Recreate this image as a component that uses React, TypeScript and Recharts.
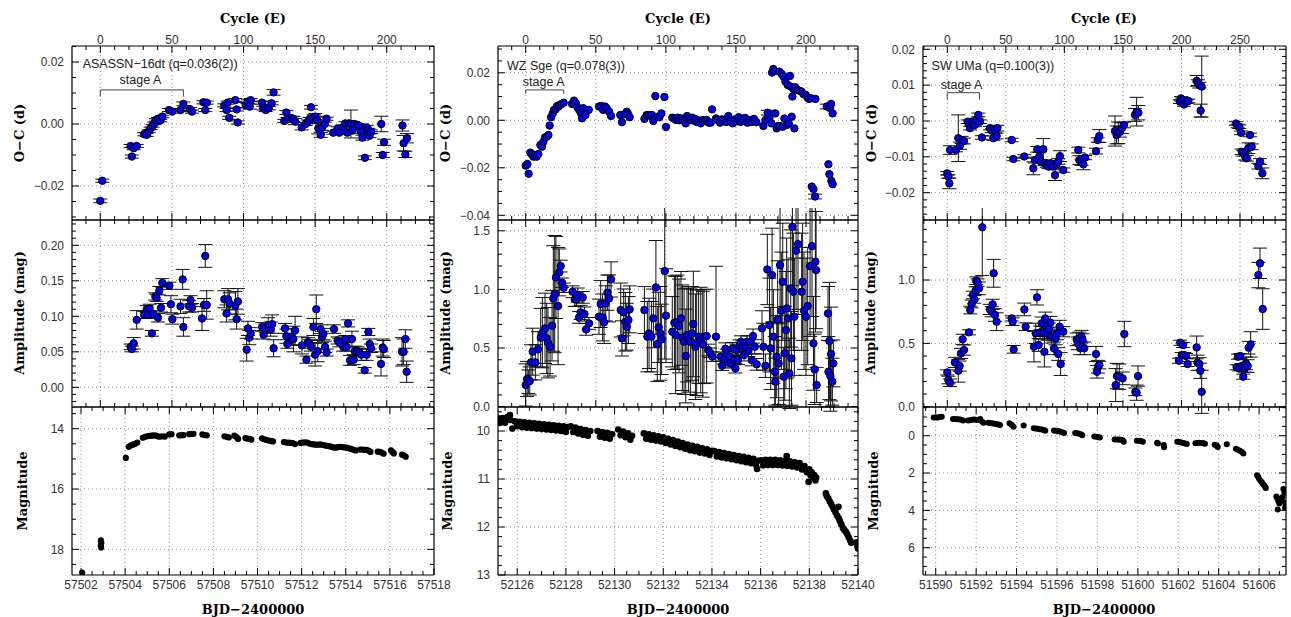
import React from 'react';
import {
  ScatterChart,
  Scatter,
  XAxis,
  YAxis,
  ErrorBar,
  ReferenceLine,
  ReferenceDot,
} from 'recharts';

// ---- data: [cycle E, value, error] ----
const asOC = [
  [0, -0.0248, 0.0006], [1.4, -0.0183, 0.0005], [21.2, -0.0071, 0.0005], [22, -0.0105, 0.0005], [23.3, -0.0078, 0.0005],
  [25.4, -0.0071, 0.0005], [30.7, -0.0033, 0.0005], [32.4, -0.0035, 0.0005], [33.8, -0.0023, 0.0004], [35.1, -0.0014, 0.0004],
  [36.5, -0.0006, 0.0004], [37.7, 0.0002, 0.0004], [38.9, 0.0013, 0.0004], [40.3, 0.0017, 0.0004], [41.9, 0.0011, 0.0004],
  [43.3, 0.0024, 0.0004], [48, 0.0045, 0.0005], [50.3, 0.004, 0.0005], [56, 0.0045, 0.0005], [58, 0.0065, 0.0006],
  [62.6, 0.0048, 0.0005], [64, 0.004, 0.0005], [72, 0.007, 0.0005], [73.3, 0.0045, 0.0005], [74.3, 0.0069, 0.0005],
  [86.6, 0.006, 0.0005], [88.2, 0.0045, 0.0005], [88.9, 0.0069, 0.0005], [90, 0.002, 0.0005], [94.3, 0.0077, 0.0005],
  [95.2, 0.0047, 0.0005], [95.9, 0.0005, 0.0005], [101.5, 0.0061, 0.0008], [102.9, 0.0072, 0.0006], [104.3, 0.0056, 0.0008],
  [105, 0.0077, 0.0005], [112.9, 0.0069, 0.0005], [113.8, 0.0051, 0.0006], [115.5, 0.0045, 0.0005], [117.6, 0.0051, 0.0005],
  [119.6, 0.0067, 0.0005], [121, 0.0102, 0.0009], [128.5, 0.001, 0.0005], [129.9, 0.0037, 0.0006], [130.8, 0.0016, 0.0005],
  [133.8, 0.0018, 0.0007], [134.8, 0.0016, 0.0008], [136, 0.0008, 0.001], [140.6, -0.0011, 0.0008], [143.4, 0, 0.0005],
  [145, 0.0008, 0.0005], [146.2, 0.0016, 0.0005], [147.1, 0.0054, 0.0006], [149, 0.0022, 0.0008], [150.1, 0.0024, 0.001],
  [151.3, 0.0013, 0.0012], [152.2, -0.0014, 0.0018], [153.9, -0.0035, 0.0008], [154.8, -0.0012, 0.0008], [156.7, 0, 0.0006],
  [158, 0.0017, 0.0005], [162.7, -0.0028, 0.0005], [165.7, -0.0014, 0.0005], [166.9, -0.0028, 0.0005], [169.7, -0.0011, 0.0005],
  [171.1, 0.0002, 0.0005], [172.5, -0.0028, 0.0005], [173.6, 0.0002, 0.0005], [175, 0, 0.0045], [176.2, -0.0019, 0.0006],
  [177.4, 0, 0.0005], [179.5, -0.0003, 0.0005], [180.9, -0.0006, 0.0005], [182, -0.0025, 0.0005], [183, -0.0044, 0.0008],
  [184.8, -0.0109, 0.0006], [186, -0.0011, 0.0006], [187.2, -0.0019, 0.0005], [188, -0.0038, 0.0006], [189, -0.0025, 0.0006],
  [196.2, 0, 0.0025], [197.2, -0.01, 0.0008], [198.1, -0.0059, 0.001], [211, -0.0005, 0.0018], [211.8, -0.0062, 0.0025],
  [213, -0.0098, 0.001], [214.1, -0.0046, 0.0015],
];

const asAmp = [
  [21.2, 0.057, 0.004], [22, 0.054, 0.004], [23.3, 0.062, 0.008], [25.4, 0.095, 0.013], [30.7, 0.102, 0.005], [32.4, 0.11, 0.005],
  [33, 0.102, 0.005], [34.4, 0.111, 0.006], [36, 0.076, 0.004], [37, 0.103, 0.005], [38.4, 0.128, 0.005], [39.3, 0.126, 0.005],
  [40.3, 0.098, 0.006], [41.2, 0.136, 0.006], [42.4, 0.112, 0.006], [43.3, 0.147, 0.006], [48.2, 0.143, 0.005], [49.3, 0.117, 0.012],
  [50.3, 0.096, 0.007], [56, 0.114, 0.01], [57.5, 0.152, 0.014], [58, 0.085, 0.013], [62, 0.114, 0.008], [63, 0.123, 0.006],
  [64, 0.112, 0.006], [71, 0.097, 0.017], [72.4, 0.116, 0.009], [73.3, 0.185, 0.016], [74.3, 0.116, 0.02], [86.6, 0.124, 0.012],
  [88.2, 0.104, 0.012], [89.2, 0.124, 0.015], [90.3, 0.118, 0.015], [94.3, 0.115, 0.02], [95.2, 0.096, 0.014], [96.1, 0.121, 0.018],
  [102.2, 0.053, 0.016], [103.1, 0.083, 0.01], [104, 0.07, 0.01], [105, 0.076, 0.008], [113, 0.085, 0.006], [114, 0.074, 0.006],
  [115.5, 0.083, 0.006], [117.3, 0.088, 0.01], [119, 0.082, 0.01], [120, 0.089, 0.013], [121, 0.055, 0.012], [129, 0.083, 0.007],
  [129.9, 0.072, 0.01], [130.6, 0.061, 0.006], [133.4, 0.071, 0.012], [134.8, 0.068, 0.018], [136, 0.08, 0.02], [140.8, 0.059, 0.012],
  [143.9, 0.039, 0.005], [145, 0.064, 0.006], [146, 0.061, 0.006], [147.1, 0.057, 0.006], [148.8, 0.085, 0.012], [150, 0.046, 0.016],
  [150.8, 0.11, 0.02], [151.8, 0.051, 0.015], [153.9, 0.082, 0.006], [154.8, 0.071, 0.008], [155.7, 0.075, 0.008], [156.9, 0.057, 0.008],
  [158, 0.049, 0.005], [163.2, 0.082, 0.006], [165.7, 0.066, 0.005], [166.9, 0.063, 0.006], [169.7, 0.057, 0.006], [171.1, 0.068, 0.005],
  [172, 0.057, 0.006], [173, 0.09, 0.005], [174.4, 0.038, 0.007], [175.7, 0.068, 0.011], [177, 0.039, 0.007], [177.6, 0.051, 0.007],
  [179.5, 0.051, 0.006], [180.9, 0.049, 0.006], [182.3, 0.046, 0.008], [184.6, 0.024, 0.004], [186, 0.046, 0.008], [187.2, 0.078, 0.005],
  [188.1, 0.061, 0.007], [189, 0.055, 0.006], [196, 0.033, 0.017], [197.2, 0.056, 0.012], [197.9, 0.054, 0.012], [210.7, 0.05, 0.02],
  [211.8, 0.05, 0.018], [213, 0.068, 0.013], [213.9, 0.022, 0.015],
];

// [BJD, magnitude]
const asLC = [
  [57502.05, 18.77], [57502.9, 17.7], [57502.92, 17.78], [57502.9, 17.86], [57502.91, 17.94], [57504.03, 14.97],
  [57504.16, 14.6], [57504.25, 14.56], [57504.35, 14.53], [57504.45, 14.5], [57504.55, 14.46],
  [57504.8, 14.3], [57504.9, 14.27], [57505.0, 14.25], [57505.1, 14.24], [57505.2, 14.23], [57505.3, 14.22],
  [57505.4, 14.23], [57505.5, 14.26], [57505.6, 14.26], [57505.7, 14.25], [57505.8, 14.26], [57506.0, 14.19], [57506.1, 14.18],
  [57506.45, 14.22], [57506.55, 14.22], [57506.65, 14.21], [57506.9, 14.18], [57507.0, 14.17], [57507.1, 14.17],
  [57507.5, 14.19], [57507.6, 14.21], [57507.7, 14.22], [57508.5, 14.25], [57508.6, 14.27], [57508.7, 14.29],
  [57508.95, 14.23], [57509.05, 14.28], [57509.12, 14.34], [57509.45, 14.31], [57509.55, 14.33], [57509.65, 14.34], [57509.72, 14.36],
  [57510.2, 14.32], [57510.3, 14.35], [57510.4, 14.37], [57510.5, 14.39], [57510.6, 14.4], [57510.7, 14.42],
  [57511.2, 14.44], [57511.3, 14.46], [57511.4, 14.46], [57511.5, 14.47], [57511.6, 14.48], [57511.7, 14.51],
  [57511.95, 14.47], [57512.05, 14.46], [57512.15, 14.45], [57512.25, 14.46], [57512.35, 14.49], [57512.45, 14.51],
  [57512.55, 14.52], [57512.65, 14.53], [57512.75, 14.53], [57512.85, 14.52], [57512.95, 14.54], [57513.05, 14.55],
  [57513.15, 14.57], [57513.25, 14.58], [57513.35, 14.6], [57513.45, 14.62], [57513.55, 14.63], [57513.65, 14.61],
  [57513.75, 14.6], [57513.85, 14.61], [57513.95, 14.62], [57514.05, 14.63], [57514.15, 14.65], [57514.25, 14.67],
  [57514.35, 14.7], [57514.45, 14.72], [57514.65, 14.69], [57514.75, 14.69], [57514.85, 14.7], [57514.95, 14.7],
  [57515.05, 14.73], [57515.12, 14.77], [57515.45, 14.76], [57515.55, 14.77], [57515.65, 14.8], [57515.72, 14.83],
  [57516.05, 14.72], [57516.12, 14.77], [57516.18, 14.82], [57516.55, 14.86], [57516.65, 14.89], [57516.72, 14.93],
];

const wzOC = [
  [0, -0.0191], [1.2, -0.0184], [2.1, -0.0225], [3.3, -0.0136], [4.3, -0.0143], [5.5, -0.0153], [6.7, -0.0146], [7.8, -0.0153],
  [9, -0.0142], [10.5, -0.0104], [11.7, -0.0111], [12.6, -0.009], [13.8, -0.0072], [15, -0.0069], [16.2, -0.0062], [17.1, -0.0022],
  [18.1, 0.0013], [19.3, 0.0029], [20.2, 0.0044], [21.4, 0.0046], [22.4, 0.006], [23.5, 0.0058], [24.5, 0.0065], [25.7, 0.0069],
  [27.1, 0.0074], [33, 0.0069], [34.5, 0.0083], [35.7, 0.0072], [36.9, 0.0055], [38.1, 0.0044], [39.5, 0.0029], [40.2, 0.0008],
  [41.1, 0.0051], [42.6, 0.0022], [45, 0.0044], [52.3, 0.0058], [53.8, 0.006], [55.2, 0.0044], [56.6, 0.0058], [57.8, 0.0051],
  [59.5, 0.0036], [60.9, 0.0018], [67.5, 0.0022], [68.7, -0.0008], [70.2, 0.0025], [72.1, 0.0036], [73, 0.0027], [74.2, 0.0013],
  [84.7, 0.0006], [86.3, 0.0022], [87.5, 0.0022], [89.2, 0.0018], [90.1, 0.0022], [91.1, -0.0003], [92.5, 0.0102], [94.2, 0.0015],
  [95.4, 0.0013], [96.8, 0.0029], [99, 0.0098], [100.1, -0.0028], [104.6, 0.0011], [106.1, 0.0007], [107.3, 0.0001], [108.5, 0.0011],
  [109.6, 0], [110.8, 0.0008], [112, -0.0001], [113.2, 0.0004], [114.2, -0.0013], [115.1, 0.0018], [116.3, 0.0008], [117.5, 0.0001],
  [118.7, 0.0011], [119.6, -0.0001], [120.8, 0.0006], [122, -0.0007], [123.4, -0.0001], [124.9, -0.0013], [126.3, 0.0001],
  [127.7, -0.0001], [129.1, 0.0001], [130.6, -0.001], [132, -0.001], [133, 0.0046], [135.8, 0.0008], [137, 0.0001], [138.7, -0.001],
  [140.1, 0.0004], [141.5, -0.0004], [143.2, -0.0007], [144.6, 0.0018], [146.3, -0.0001], [147.7, -0.0013], [149.4, 0.0004],
  [150.8, -0.0004], [152, 0.0013], [153.4, -0.0007], [154.8, 0.0001], [156.5, 0.001], [158.2, -0.001], [159.6, 0.0001],
  [161.3, -0.0007], [162.9, 0.0006], [164.6, -0.0008], [169.6, -0.0024], [171, 0.0001], [172.7, 0.0032, 0.001], [173.9, 0.0008],
  [175.3, -0.0013], [175.8, 0.0201], [176.7, 0.0216], [177.4, 0.0208], [178.1, 0.0029], [179.1, -0.0034], [180, -0.0024],
  [181, 0.0205], [181.5, -0.0024], [182.7, 0.0195], [183.4, -0.0027], [183.9, 0.0184], [184.6, 0.0008], [185.3, 0.0163],
  [186.2, -0.002], [186.9, 0.0149], [187.7, -0.0013], [188.6, 0.0187], [189.1, 0.0142], [189.8, 0.0015], [190.3, 0.01],
  [191, 0.0131], [191.7, -0.0034], [192.4, 0.0139], [193.8, 0.0128], [195.3, 0.0125], [196.7, 0.0121], [198.1, 0.0111],
  [199.8, 0.0107], [201.2, 0.0095], [202.2, 0.009], [203.6, 0.0093], [206.7, 0.009], [204.1, -0.0279], [205.3, -0.0289],
  [206.5, -0.0321, 0.001], [214.8, 0.0058, 0.001], [216, -0.0185], [216.7, -0.0227], [217.2, 0.0051], [217.9, 0.0069],
  [218.1, -0.0255], [219, 0.0029], [219, -0.0269],
];

const wzAmp = [
  [0, 0.185, 0.18], [1, 0.236, 0.15], [1.9, 0.213, 0.1], [2.9, 0.219, 0.12], [3.8, 0.378, 0.15], [5, 0.469, 0.2], [6.9, 0.378, 0.15],
  [8.8, 0.489, 0.15], [10.7, 0.588, 0.25], [11.9, 0.631, 0.3], [13.8, 0.668, 0.3], [15, 0.582, 0.3], [15.9, 0.545, 0.3],
  [17.4, 0.511, 0.25], [18.8, 0.69, 0.3], [19.7, 0.923, 0.45], [20.7, 0.96, 0.5], [21.6, 1.102, 0.35], [23.1, 0.858, 0.5],
  [24, 1.145, 0.2], [25, 1.199, 0.05], [25.9, 1.057, 0.04], [27.1, 1.014, 0.04], [33.5, 0.98, 0.05], [35, 0.915, 0.06],
  [36.2, 0.915, 0.06], [37.1, 0.952, 0.06], [38.1, 0.761, 0.05], [39.2, 0.804, 0.06], [40.7, 0.932, 0.05], [41.9, 0.79, 0.06],
  [43.1, 0.659, 0.05], [45.2, 0.71, 0.05], [52.3, 0.767, 0.15], [53.5, 0.875, 0.2], [54.9, 0.761, 0.2], [55.9, 0.719, 0.18],
  [57.1, 0.881, 0.15], [58.3, 0.972, 0.15], [59.5, 0.923, 0.2], [60.9, 1.085, 0.15], [67.8, 0.824, 0.23], [68.7, 0.582, 0.15],
  [69.9, 0.804, 0.2], [71.1, 0.724, 0.25], [72.1, 0.682, 0.2], [73.3, 0.739, 0.2], [74.2, 0.83, 0.2], [84.7, 0.824, 0.2],
  [86.8, 0.597, 0.3], [88, 0.625, 0.3], [89.7, 0.597, 0.3], [91.1, 0.753, 0.25], [92.9, 1.017, 0.4], [93.9, 0.534, 0.32],
  [94.9, 0.676, 0.3], [96.1, 0.625, 0.4], [97, 0.574, 0.3], [99.2, 1.156, 0.75], [100.1, 0.776, 0.4], [104.6, 0.639, 0.3],
  [106.1, 0.716, 0.4], [107, 0.611, 0.5], [108.2, 0.722, 0.4], [109.4, 0.688, 0.4], [110.8, 0.753, 0.4], [111.8, 0.588, 0.45],
  [113, 0.554, 0.45], [114.2, 0.432, 0.4], [115.1, 0.611, 0.4], [116.1, 0.574, 0.45], [117.5, 0.554, 0.45], [118.7, 0.625, 0.4],
  [119.6, 0.705, 0.45], [121.1, 0.511, 0.45], [122, 0.545, 0.45], [123.4, 0.597, 0.4], [124.9, 0.568, 0.45], [126.3, 0.531, 0.45],
  [127.2, 0.597, 0.4], [129.1, 0.602, 0.4], [130.3, 0.483, 0.05], [131.5, 0.46, 0.04], [133.2, 0.426, 0.04], [135.8, 0.597, 0.6],
  [139.2, 0.426, 0.04], [140.1, 0.349, 0.04], [141.5, 0.403, 0.04], [142.5, 0.494, 0.05], [143.4, 0.449, 0.04], [144.4, 0.378, 0.04],
  [145.3, 0.426, 0.04], [146.5, 0.369, 0.04], [147.7, 0.497, 0.05], [148.6, 0.398, 0.04], [149.6, 0.327, 0.04], [150.5, 0.483, 0.05],
  [151.5, 0.398, 0.04], [152.5, 0.52, 0.05], [153.6, 0.554, 0.05], [154.6, 0.511, 0.05], [155.8, 0.44, 0.05], [156.7, 0.511, 0.05],
  [157.9, 0.554, 0.05], [158.9, 0.477, 0.05], [160.1, 0.554, 0.05], [161.2, 0.398, 0.05], [162.2, 0.602, 0.06], [163.4, 0.511, 0.06],
  [164.8, 0.361, 0.05], [168.6, 0.668, 0.15], [169.6, 0.511, 0.2], [171, 0.349, 0.1], [172.4, 1.17, 0.3], [173.9, 0.696, 0.4],
  [174.8, 0.497, 0.35], [175.8, 1.122, 0.4], [176.7, 0.597, 0.4], [177.7, 0.298, 0.3], [178.1, 0.213, 0.2], [179.1, 0.426, 0.35],
  [179.8, 0.744, 0.5], [180.5, 0.369, 0.35], [181.5, 1.207, 0.5], [182.4, 0.818, 0.5], [183.4, 1.065, 0.5], [184.1, 0.256, 0.25],
  [184.8, 0.455, 0.4], [185.7, 0.653, 0.5], [186.2, 0.838, 0.6], [187.2, 0.753, 0.5], [188.1, 0.284, 0.3], [189.1, 1.008, 0.5],
  [189.6, 0.412, 0.4], [190.3, 1.534, 0.5], [191, 0.98, 0.5], [191.7, 0.767, 0.5], [192.9, 1.33, 0.5], [194.3, 1.386, 0.6],
  [196.9, 0.98, 0.5], [197.6, 1.065, 0.5], [198.6, 0.818, 0.5], [200, 0.767, 0.5], [201.2, 0.858, 0.5], [202.9, 1.199, 0.6],
  [204.3, 1.369, 0.6], [205.3, 0.54, 0.4], [206.2, 0.318, 0.3], [206.7, 1.236, 0.6], [207.2, 1.165, 0.5], [207.6, 0.185, 0.15],
  [215.7, 0.795, 0.23], [216, 0.298, 0.3], [216.7, 0.56, 0.5], [217.4, 0.261, 0.3], [217.9, 0.449, 0.4], [218.8, 0.213, 0.2],
  [219.5, 0.369, 0.2],
];

// upper and lower edges of the band read alternately
const wzLC = [
  [52125.2, 9.73], [52125.3, 9.83], [52125.4, 9.73], [52125.5, 9.83], [52125.6, 9.71], [52125.7, 9.67], [52125.72, 9.77],
  [52125.8, 9.95], [52125.9, 9.8], [52126.0, 9.9], [52126.1, 9.81], [52126.2, 9.92], [52126.3, 9.82], [52126.4, 9.93],
  [52126.5, 9.83], [52126.6, 9.94], [52126.7, 9.84], [52126.8, 9.95], [52126.9, 9.85], [52127.0, 9.96], [52127.1, 9.86],
  [52127.2, 9.97], [52127.3, 9.87], [52127.4, 9.98], [52127.5, 9.88], [52127.6, 9.99], [52127.7, 9.89], [52127.8, 10.0],
  [52127.9, 9.9], [52128.0, 10.02], [52128.05, 9.92],
  [52128.2, 9.9], [52128.3, 10.02], [52128.4, 9.93], [52128.5, 10.05], [52128.6, 9.96], [52128.7, 10.08], [52128.8, 9.98],
  [52128.9, 10.1], [52129.0, 10.0],
  [52129.3, 10.0], [52129.4, 10.12], [52129.5, 10.02], [52129.6, 10.14], [52129.7, 10.04], [52129.8, 10.16], [52129.9, 10.07],
  [52130.15, 9.97], [52130.25, 10.09], [52130.35, 10.01], [52130.45, 10.13], [52130.55, 10.05], [52130.65, 10.18], [52130.72, 10.1],
  [52131.2, 10.05], [52131.3, 10.16], [52131.4, 10.07], [52131.5, 10.18], [52131.6, 10.09], [52131.7, 10.2], [52131.8, 10.11],
  [52131.9, 10.22], [52132.0, 10.13], [52132.1, 10.25], [52132.2, 10.16], [52132.3, 10.28], [52132.4, 10.19], [52132.5, 10.31],
  [52132.6, 10.22], [52132.7, 10.34], [52132.8, 10.25], [52132.9, 10.37], [52133.0, 10.28], [52133.1, 10.4], [52133.2, 10.31],
  [52133.3, 10.42], [52133.4, 10.33], [52133.5, 10.45], [52133.6, 10.36], [52133.7, 10.47], [52133.8, 10.38], [52133.9, 10.5],
  [52134.0, 10.41],
  [52134.1, 10.42], [52134.2, 10.53], [52134.3, 10.44], [52134.4, 10.55], [52134.5, 10.46], [52134.6, 10.57], [52134.7, 10.48],
  [52134.8, 10.59], [52134.9, 10.5], [52135.0, 10.61], [52135.1, 10.52], [52135.2, 10.63], [52135.3, 10.54], [52135.4, 10.65],
  [52135.5, 10.56], [52135.6, 10.67], [52135.7, 10.58], [52135.8, 10.7], [52135.85, 10.79], [52135.88, 10.62],
  [52136.0, 10.61], [52136.1, 10.72], [52136.2, 10.6], [52136.3, 10.71], [52136.4, 10.6], [52136.5, 10.71], [52136.6, 10.6],
  [52136.7, 10.71], [52136.8, 10.61], [52136.9, 10.72], [52137.0, 10.62], [52137.07, 10.52], [52137.1, 10.73], [52137.2, 10.63],
  [52137.3, 10.74], [52137.4, 10.65], [52137.5, 10.76], [52137.6, 10.67], [52137.7, 10.8], [52137.8, 10.73], [52137.9, 10.86],
  [52137.97, 11.06], [52138.0, 10.8], [52138.05, 10.92], [52138.1, 10.86], [52138.15, 10.97], [52138.2, 10.92], [52138.25, 11.03],
  [52138.28, 10.97],
  [52138.68, 11.3], [52138.72, 11.36], [52138.78, 11.4], [52138.84, 11.47], [52138.9, 11.52], [52138.96, 11.58], [52139.02, 11.64],
  [52139.08, 11.7], [52139.14, 11.76], [52139.2, 11.58], [52139.21, 11.82], [52139.26, 11.88], [52139.32, 11.95], [52139.38, 12.02],
  [52139.44, 12.06], [52139.5, 12.1], [52139.56, 12.15], [52139.62, 12.22], [52139.68, 12.28], [52139.72, 12.33],
  [52139.95, 12.32], [52139.98, 12.4], [52140.0, 12.45],
];

const swOC = [
  [0, -0.0146, 0.0005], [0.9, -0.0155, 0.0005], [1.7, -0.0174, 0.0015], [2.3, -0.0081, 0.0012], [7.4, -0.0081, 0.0005],
  [9.4, -0.0048, 0.0065], [10.8, -0.0069, 0.001], [12.2, -0.0053, 0.001], [14.2, -0.0056, 0.0008], [17.4, -0.0002, 0.0005],
  [19.4, -0.002, 0.0005], [20.8, -0.0007, 0.0005], [22.2, -0.0002, 0.0005], [23.6, -0.0011, 0.0005], [25, 0.0003, 0.0005],
  [26.5, 0.0017, 0.0005], [27.9, -0.0002, 0.0005], [29.6, -0.0046, 0.0005], [36.4, -0.002, 0.0005], [37.9, -0.0027, 0.0005],
  [39.3, -0.0048, 0.0006], [40.7, -0.0025, 0.0008], [42.1, -0.0042, 0.0008], [42.7, -0.002, 0.0008], [55, -0.0053, 0.0005],
  [56.4, -0.0106, 0.0005], [65.8, -0.0099, 0.0005], [73.5, -0.0132, 0.0018], [74.9, -0.0109, 0.0008], [76.9, -0.0079, 0.0008],
  [78.6, -0.0099, 0.0012], [80, -0.0113, 0.0005], [82, -0.0079, 0.003], [82.9, -0.0118, 0.0006], [84.9, -0.0123, 0.0006],
  [86.3, -0.0127, 0.0006], [88.3, -0.0118, 0.0006], [90, -0.0127, 0.0006], [92, -0.0151, 0.0015], [93.4, -0.012, 0.0008],
  [94.8, -0.0113, 0.0008], [96.2, -0.0098, 0.0015], [99.1, -0.0137, 0.0006], [111.9, -0.0081, 0.0008], [112.8, -0.0109, 0.0012],
  [114.7, -0.0116, 0.0008], [116.2, -0.0121, 0.0015], [117.6, -0.0102, 0.0006], [127, -0.0084, 0.0008], [128.4, -0.0053, 0.0006],
  [129.8, -0.0042, 0.0018], [143.2, -0.0028, 0.0042], [144.6, -0.0039, 0.0025], [146.1, -0.0033, 0.003], [147.5, -0.003, 0.0015],
  [149.2, -0.002, 0.0015], [150.9, -0.0011, 0.0008], [160.3, 0.0017, 0.0018], [161.7, 0.0026, 0.004], [163.2, 0.0023, 0.002],
  [198.7, 0.0054, 0.0005], [199.6, 0.0063, 0.0005], [200.7, 0.0059, 0.0005], [202.2, 0.0046, 0.0005], [204.4, 0.0054, 0.0005],
  [205.9, 0.0056, 0.0005], [213, 0.0112, 0.0015], [214.1, 0.0107, 0.0008], [215.3, 0.01, 0.0008], [216.4, 0.0029, 0.0018],
  [217.3, 0.0096, 0.0085], [246.6, -0.0007, 0.0005], [248, -0.0014, 0.0005], [249.4, -0.0016, 0.0005], [250.9, -0.0033, 0.0005],
  [251.4, -0.0086, 0.0008], [252.8, -0.009, 0.0008], [254.3, -0.0099, 0.001], [255.7, -0.0104, 0.0008], [257.1, -0.0076, 0.0015],
  [258.5, -0.0039, 0.0005], [260, -0.0072, 0.0008], [265.7, -0.0126, 0.0008], [267.1, -0.0113, 0.0008], [269.1, -0.0146, 0.0015],
];

const swAmp = [
  [0, 0.271, 0.02], [0.9, 0.211, 0.03], [2.3, 0.189, 0.03], [6.5, 0.35, 0.04], [9.4, 0.284, 0.09], [10.5, 0.321, 0.04],
  [11.7, 0.421, 0.04], [13.1, 0.532, 0.04], [14.2, 0.447, 0.04], [18.5, 0.587, 0.02], [19.6, 0.763, 0.03], [20.8, 0.811, 0.03],
  [21.9, 0.882, 0.03], [23.1, 0.847, 0.03], [24.2, 0.916, 0.03], [24.8, 0.995, 0.03], [25.9, 0.979, 0.03], [27, 0.934, 0.05],
  [29.9, 1.416, 0.38], [36.4, 0.768, 0.04], [37.9, 0.75, 0.04], [38.7, 0.808, 0.04], [39.6, 1.053, 0.11], [40.7, 0.724, 0.05],
  [42.1, 0.671, 0.07], [55, 0.697, 0.02], [55.8, 0.671, 0.03], [56.7, 0.453, 0.03], [65.8, 0.768, 0.05], [66.9, 0.632, 0.03],
  [74, 0.474, 0.12], [75.5, 0.579, 0.08], [76.6, 0.863, 0.06], [78, 0.487, 0.05], [79.2, 0.587, 0.05], [80.6, 0.658, 0.05],
  [81.7, 0.584, 0.05], [82.9, 0.434, 0.12], [83.7, 0.697, 0.05], [84.6, 0.632, 0.05], [85.7, 0.574, 0.05], [86.8, 0.611, 0.05],
  [88, 0.663, 0.05], [89.1, 0.553, 0.05], [91.1, 0.461, 0.05], [92.5, 0.539, 0.05], [93.7, 0.579, 0.05], [94.8, 0.416, 0.05],
  [96, 0.632, 0.05], [96.8, 0.337, 0.09], [99.1, 0.592, 0.04], [110.5, 0.532, 0.05], [111.6, 0.5, 0.05], [112.8, 0.539, 0.05],
  [113.6, 0.461, 0.05], [114.7, 0.553, 0.05], [115.6, 0.526, 0.05], [117, 0.461, 0.05], [127, 0.416, 0.06], [127.8, 0.276, 0.05],
  [128.7, 0.316, 0.05], [129.8, 0.329, 0.03], [143.8, 0.171, 0.13], [144.9, 0.242, 0.1], [146.9, 0.237, 0.1], [149.8, 0.224, 0.05],
  [151.2, 0.574, 0.1], [160.6, 0.118, 0.03], [161.7, 0.111, 0.06], [162.9, 0.242, 0.08], [197.9, 0.363, 0.02], [199, 0.505, 0.02],
  [200.2, 0.408, 0.02], [201.3, 0.487, 0.02], [202.4, 0.408, 0.02], [203.9, 0.4, 0.02], [205.3, 0.337, 0.02], [213, 0.468, 0.09],
  [213.8, 0.347, 0.06], [215.3, 0.337, 0.05], [216.1, 0.284, 0.06], [217.3, 0.118, 0.17], [247.2, 0.311, 0.02], [248.3, 0.395, 0.02],
  [249.4, 0.303, 0.02], [250.3, 0.4, 0.02], [251.4, 0.321, 0.02], [252.8, 0.237, 0.02], [254, 0.303, 0.03], [255.1, 0.342, 0.05],
  [256.5, 0.321, 0.05], [257.4, 0.466, 0.05], [259.1, 0.492, 0.1], [265.7, 1.039, 0.1], [267.1, 1.132, 0.12], [269.4, 0.771, 0.16],
];

const swLC = [
  [51589.9, -0.98], [51590.0, -0.97], [51590.1, -0.98], [51590.2, -1.0], [51590.3, -1.01],
  [51590.85, -0.9], [51590.95, -0.89], [51591.05, -0.88], [51591.15, -0.88], [51591.25, -0.85], [51591.35, -0.82],
  [51591.6, -0.82], [51591.7, -0.83], [51591.8, -0.85], [51591.9, -0.87], [51592.0, -0.86], [51592.1, -0.84], [51592.2, -0.9],
  [51592.3, -0.75], [51592.36, -0.7], [51592.6, -0.7], [51592.7, -0.67], [51592.8, -0.66], [51592.9, -0.64], [51593.0, -0.63],
  [51593.1, -0.6], [51593.18, -0.57], [51593.65, -0.66], [51593.75, -0.58], [51593.85, -0.48], [51594.35, -0.55],
  [51594.85, -0.4], [51594.95, -0.39], [51595.05, -0.37], [51595.15, -0.35], [51595.25, -0.33], [51595.35, -0.31], [51595.42, -0.27],
  [51595.85, -0.28], [51595.95, -0.27], [51596.05, -0.25], [51596.15, -0.22], [51596.25, -0.19], [51596.35, -0.14],
  [51596.9, -0.14], [51597.0, -0.13], [51597.1, -0.11], [51597.2, -0.06], [51597.25, -0.03],
  [51597.85, 0.04], [51597.95, 0.06], [51598.05, 0.08], [51598.12, 0.1],
  [51598.85, 0.2], [51598.95, 0.2], [51599.05, 0.21], [51599.15, 0.22], [51599.25, 0.25], [51599.3, 0.32],
  [51599.95, 0.27], [51600.05, 0.27], [51600.15, 0.28], [51600.25, 0.32], [51600.95, 0.38], [51601.0, 0.42],
  [51601.28, 0.5], [51601.3, 0.62], [51601.95, 0.32], [51602.05, 0.34], [51602.15, 0.37], [51602.25, 0.39], [51602.35, 0.42],
  [51602.42, 0.44], [51602.85, 0.41], [51602.95, 0.39], [51603.05, 0.38], [51603.15, 0.39], [51603.25, 0.41], [51603.32, 0.43],
  [51603.8, 0.48], [51603.9, 0.53], [51603.95, 0.6], [51604.4, 0.46], [51604.85, 0.7], [51604.95, 0.75], [51605.05, 0.8],
  [51605.15, 0.87], [51605.22, 0.96], [51605.9, 2.12], [51605.95, 2.2], [51606.0, 2.3], [51606.05, 2.38], [51606.1, 2.45],
  [51606.15, 2.52], [51606.2, 2.6], [51606.25, 2.67], [51606.3, 2.75], [51606.33, 2.8], [51606.85, 3.25], [51606.9, 3.35],
  [51606.92, 3.95], [51606.95, 3.5], [51607.0, 3.63], [51607.05, 3.55], [51607.1, 3.4], [51607.15, 3.3], [51607.2, 2.85],
  [51607.25, 3.05], [51607.28, 3.85], [51607.3, 3.6],
];

// ---- tick labels ----
const cycleTicksAB = [0, 50, 100, 150, 200];
const cycleTicksC = [0, 50, 100, 150, 200, 250];
const bjdTicksA = [57502, 57504, 57506, 57508, 57510, 57512, 57514, 57516, 57518];
const bjdTicksB = [52126, 52128, 52130, 52132, 52134, 52136, 52138, 52140];
const bjdTicksC = [51590, 51592, 51594, 51596, 51598, 51600, 51602, 51604, 51606];
const ocTicksA = [-0.02, 0, 0.02];
const ocTicksB = [-0.04, -0.02, 0, 0.02];
const ocTicksC = [-0.02, -0.01, 0, 0.01, 0.02];
const ampTicksA = [0, 0.05, 0.1, 0.15, 0.2];
const ampTicksB = [0, 0.5, 1, 1.5];
const ampTicksC = [0, 0.5, 1];
const magTicksA = [14, 16, 18];
const magTicksB = [10, 11, 12, 13];
const magTicksC = [0, 2, 4, 6];

const SANS = '"Liberation Sans", Arial, Helvetica, sans-serif';
const SERIF = '"DejaVu Serif", "Liberation Serif", serif';
const PADL = 60;
const PADR = 22;
const FRAME = { stroke: '#000', strokeWidth: 1.2 };
const GRID = { stroke: '#8c8c8c', strokeDasharray: '1 3', strokeWidth: 1 };

type Fmt = (v: number) => string;
type Side = 'left' | 'right' | 'top' | 'bottom';
type Note = { title: string; tx: number; ty: number; a0: number; a1: number; ay: number; ay2: number; lx: number; ly: number };
type Cfg = {
  key: string; L: number; R: number; T: number; B: number;
  xDom: [number, number]; xMajor: number[]; xStep: number; xLab?: 'top' | 'bottom';
  yDom: [number, number]; yMajor: number[]; yStep: number; yFmt: Fmt; rev?: boolean;
  rows: number[][]; lc?: boolean; dotR?: number; note?: Note;
};

const fmt = (d: number): Fmt => (v) => (v < -1e-9 ? '\u2212' : '') + Math.abs(v).toFixed(d);
const intFmt: Fmt = (v) => v.toFixed(0);

// every tick position (major + minor) inside the domain
const stepTicks = (dom: [number, number], step: number) => {
  const out: number[] = [];
  const a = Math.ceil(dom[0] / step - 1e-9);
  const b = Math.floor(dom[1] / step + 1e-9);
  for (let i = a; i <= b; i++) out.push(+(i * step).toFixed(6));
  return out;
};

const tickRenderer = (side: Side, majors: number[], labelFmt: Fmt | null) => (p: any) => {
  const v = Number(p.payload.value);
  const major = majors.some((m) => Math.abs(m - v) < 1e-6 * Math.max(1, Math.abs(m)));
  const len = major ? 7 : 4;
  const { x, y } = p;
  const txt = { fontSize: 12, fontFamily: SANS, fill: '#333' };
  let line: any;
  let label: any = null;
  if (side === 'left') {
    line = <line x1={x} y1={y} x2={x + len} y2={y} stroke="#000" strokeWidth={1} />;
    if (major && labelFmt) label = <text x={x - 8} y={y + 4.3} textAnchor="end" {...txt}>{labelFmt(v)}</text>;
  } else if (side === 'right') {
    line = <line x1={x} y1={y} x2={x - len} y2={y} stroke="#000" strokeWidth={1} />;
  } else if (side === 'top') {
    line = <line x1={x} y1={y} x2={x} y2={y + len} stroke="#000" strokeWidth={1} />;
    if (major && labelFmt) label = <text x={x} y={y - 2.5} textAnchor="middle" {...txt}>{labelFmt(v)}</text>;
  } else {
    line = <line x1={x} y1={y} x2={x} y2={y - len} stroke="#000" strokeWidth={1} />;
    if (major && labelFmt) label = <text x={x} y={y + 13.5} textAnchor="middle" {...txt}>{labelFmt(v)}</text>;
  }
  return <g>{line}{label}</g>;
};

const blueDot = (p: any) => <circle cx={p.cx} cy={p.cy} r={3.7} fill="#0000ee" stroke="#000" strokeWidth={1} />;
const blackDot = (r: number) => (p: any) => <circle cx={p.cx} cy={p.cy} r={r} fill="#000" />;
const noDot = () => <g />;

function Panel({ c }: { c: Cfg }) {
  const topH = c.xLab === 'top' ? 30 : 12;
  const botH = c.xLab === 'bottom' ? 30 : 12;
  const width = PADL + (c.R - c.L) + PADR;
  const height = topH + (c.B - c.T) + botH;
  const xt = stepTicks(c.xDom, c.xStep);
  const yt = stepTicks(c.yDom, c.yStep);
  const data = c.rows.map((r) => ({ x: r[0], y: r[1], e: r[2] ?? 0 }));
  const inX = (v: number) => v > c.xDom[0] && v < c.xDom[1];
  const inY = (v: number) => v > c.yDom[0] && v < c.yDom[1];
  const n = c.note;
  const noteText = { fill: '#222', fontSize: 12.5, fontFamily: SANS };

  return (
    <div style={{ position: 'absolute', left: c.L - PADL, top: c.T - topH }}>
      <ScatterChart width={width} height={height} margin={{ top: 0, right: 0, bottom: 0, left: 0 }}>
        <XAxis xAxisId="b" orientation="bottom" type="number" dataKey="x" domain={c.xDom} allowDataOverflow
          ticks={xt} interval={0} height={botH} tickSize={0} tickMargin={0} tickLine={false} axisLine={FRAME}
          tick={tickRenderer('bottom', c.xMajor, c.xLab === 'bottom' ? intFmt : null)} />
        <XAxis xAxisId="t" orientation="top" type="number" dataKey="x" domain={c.xDom} allowDataOverflow
          ticks={xt} interval={0} height={topH} tickSize={0} tickMargin={0} tickLine={false} axisLine={FRAME}
          tick={tickRenderer('top', c.xMajor, c.xLab === 'top' ? intFmt : null)} />
        <YAxis yAxisId="l" orientation="left" type="number" dataKey="y" domain={c.yDom} reversed={c.rev} allowDataOverflow
          ticks={yt} interval={0} width={PADL} tickSize={0} tickMargin={0} tickLine={false} axisLine={FRAME}
          tick={tickRenderer('left', c.yMajor, c.yFmt)} />
        <YAxis yAxisId="r" orientation="right" type="number" dataKey="y" domain={c.yDom} reversed={c.rev} allowDataOverflow
          ticks={yt} interval={0} width={PADR} tickSize={0} tickMargin={0} tickLine={false} axisLine={FRAME}
          tick={tickRenderer('right', c.yMajor, null)} />
        {c.xMajor.filter(inX).map((v) => (
          <ReferenceLine key={'gx' + v} xAxisId="b" yAxisId="l" x={v} {...GRID} />
        ))}
        {c.yMajor.filter(inY).map((v) => (
          <ReferenceLine key={'gy' + v} xAxisId="b" yAxisId="l" y={v} {...GRID} />
        ))}
        {n && [
          <ReferenceLine key="s1" xAxisId="b" yAxisId="l" segment={[{ x: n.a0, y: n.ay }, { x: n.a1, y: n.ay }]} stroke="#444" />,
          <ReferenceLine key="s2" xAxisId="b" yAxisId="l" segment={[{ x: n.a0, y: n.ay }, { x: n.a0, y: n.ay2 }]} stroke="#444" />,
          <ReferenceLine key="s3" xAxisId="b" yAxisId="l" segment={[{ x: n.a1, y: n.ay }, { x: n.a1, y: n.ay2 }]} stroke="#444" />,
          <ReferenceDot key="d1" xAxisId="b" yAxisId="l" x={n.lx} y={n.ly} r={0} fill="none" stroke="none"
            label={{ value: 'stage A', position: 'center', ...noteText }} />,
          <ReferenceDot key="d2" xAxisId="b" yAxisId="l" x={n.tx} y={n.ty} r={0} fill="none" stroke="none"
            label={{ value: n.title, position: 'right', offset: 0, ...noteText }} />,
        ]}
        {!c.lc && (
          <Scatter xAxisId="b" yAxisId="l" data={data} dataKey="y" isAnimationActive={false} shape={noDot}>
            <ErrorBar dataKey="e" direction="y" width={7} stroke="#111" strokeWidth={1} />
          </Scatter>
        )}
        <Scatter xAxisId="b" yAxisId="l" data={data} dataKey="y" isAnimationActive={false}
          shape={c.lc ? blackDot(c.dotR ?? 3) : blueDot} />
      </ScatterChart>
    </div>
  );
}

const ROW_OC: [number, number] = [46, 220];
const ROW_AMP: [number, number] = [220, 407];
const ROW_LC: [number, number] = [407, 575];

const cols = [
  { L: 72, R: 434, cyc: [-19.76, 233.0] as [number, number], bjd: [57501.59, 57518.0] as [number, number] },
  { L: 498, R: 858, cyc: [-19.76, 237.1] as [number, number], bjd: [52125.21, 52140.0] as [number, number] },
  { L: 923, R: 1286, cyc: [-20.76, 289.3] as [number, number], bjd: [51589.37, 51607.33] as [number, number] },
];

const panels: Cfg[] = [
  {
    key: 'a1', ...cols[0], T: ROW_OC[0], B: ROW_OC[1], xDom: cols[0].cyc, xMajor: cycleTicksAB, xStep: 10, xLab: 'top',
    yDom: [-0.03097, 0.02516], yMajor: ocTicksA, yStep: 0.005, yFmt: fmt(2), rows: asOC,
    note: { title: 'ASASSN\u221216dt (q=0.036(2))', tx: -12.3, ty: 0.0196, a0: 0, a1: 58, ay: 0.011, ay2: 0.0088, lx: 28, ly: 0.0142 },
  },
  {
    key: 'a2', ...cols[0], T: ROW_AMP[0], B: ROW_AMP[1], xDom: cols[0].cyc, xMajor: cycleTicksAB, xStep: 10,
    yDom: [-0.0277, 0.2356], yMajor: ampTicksA, yStep: 0.01, yFmt: fmt(2), rows: asAmp,
  },
  {
    key: 'a3', ...cols[0], T: ROW_LC[0], B: ROW_LC[1], xDom: cols[0].bjd, xMajor: bjdTicksA, xStep: 0.5, xLab: 'bottom',
    yDom: [13.28, 18.85], rev: true, yMajor: magTicksA, yStep: 0.5, yFmt: fmt(0), rows: asLC, lc: true, dotR: 3.1,
  },
  {
    key: 'b1', ...cols[1], T: ROW_OC[0], B: ROW_OC[1], xDom: cols[1].cyc, xMajor: cycleTicksAB, xStep: 10, xLab: 'top',
    yDom: [-0.04198, 0.03128], yMajor: ocTicksB, yStep: 0.005, yFmt: fmt(2), rows: wzOC,
    note: { title: 'WZ Sge (q=0.078(3))', tx: -13.3, ty: 0.023, a0: 0, a1: 27.1, ay: 0.0128, ay2: 0.0111, lx: 12.8, ly: 0.0163 },
  },
  {
    key: 'b2', ...cols[1], T: ROW_AMP[0], B: ROW_AMP[1], xDom: cols[1].cyc, xMajor: cycleTicksAB, xStep: 10,
    yDom: [-0.003, 1.592], yMajor: ampTicksB, yStep: 0.1, yFmt: fmt(1), rows: wzAmp,
  },
  {
    key: 'b3', ...cols[1], T: ROW_LC[0], B: ROW_LC[1], xDom: cols[1].bjd, xMajor: bjdTicksB, xStep: 0.5, xLab: 'bottom',
    yDom: [9.5, 13.0], rev: true, yMajor: magTicksB, yStep: 0.2, yFmt: fmt(0), rows: wzLC, lc: true, dotR: 3.3,
  },
  {
    key: 'c1', ...cols[2], T: ROW_OC[0], B: ROW_OC[1], xDom: cols[2].cyc, xMajor: cycleTicksC, xStep: 10, xLab: 'top',
    yDom: [-0.02762, 0.02092], yMajor: ocTicksC, yStep: 0.002, yFmt: fmt(2), rows: swOC,
    note: { title: 'SW UMa (q=0.100(3))', tx: -13.4, ty: 0.0156, a0: 0, a1: 27.5, ay: 0.0079, ay2: 0.006, lx: 12.2, ly: 0.0103 },
  },
  {
    key: 'c2', ...cols[2], T: ROW_AMP[0], B: ROW_AMP[1], xDom: cols[2].cyc, xMajor: cycleTicksC, xStep: 10,
    yDom: [-0.002, 1.4736], yMajor: ampTicksC, yStep: 0.1, yFmt: fmt(1), rows: swAmp,
  },
  {
    key: 'c3', ...cols[2], T: ROW_LC[0], B: ROW_LC[1], xDom: cols[2].bjd, xMajor: bjdTicksC, xStep: 0.5, xLab: 'bottom',
    yDom: [-1.537, 7.461], rev: true, yMajor: magTicksC, yStep: 0.5, yFmt: fmt(0), rows: swLC, lc: true, dotR: 3,
  },
];

const titleBase: React.CSSProperties = {
  position: 'absolute', fontFamily: SERIF, fontWeight: 'bold', fontSize: 13, color: '#000', whiteSpace: 'nowrap',
};
const hTitle = (text: string, x: number, y: number) => (
  <div key={text + x + y} style={{ ...titleBase, left: x, top: y, transform: 'translate(-50%, -50%)' }}>{text}</div>
);
const vTitle = (text: string, x: number, y: number) => (
  <div key={text + x + y} style={{ ...titleBase, left: x, top: y, transform: 'translate(-50%, -50%) rotate(-90deg)' }}>{text}</div>
);

const App: React.FC = () => {
  return (
    <div style={{ position: 'absolute', left: 0, top: 0, width: 1291, height: 617, background: '#fff', overflow: 'hidden' }}>
      {panels.map((c) => <Panel key={c.key} c={c} />)}
      {[253, 678, 1104].map((x) => hTitle('Cycle (E)', x, 18))}
      {[253, 678, 1104].map((x) => hTitle('BJD\u22122400000', x, 609))}
      {vTitle('O\u2212C (d)', 19, 133)}
      {vTitle('O\u2212C (d)', 445, 133)}
      {vTitle('O\u2212C (d)', 871, 133)}
      {vTitle('Amplitude (mag)', 19, 313)}
      {vTitle('Amplitude (mag)', 445, 313)}
      {vTitle('Amplitude (mag)', 870, 313)}
      {vTitle('Magnitude', 22, 491)}
      {vTitle('Magnitude', 447, 491)}
      {vTitle('Magnitude', 873, 491)}
    </div>
  );
};

export default App;
